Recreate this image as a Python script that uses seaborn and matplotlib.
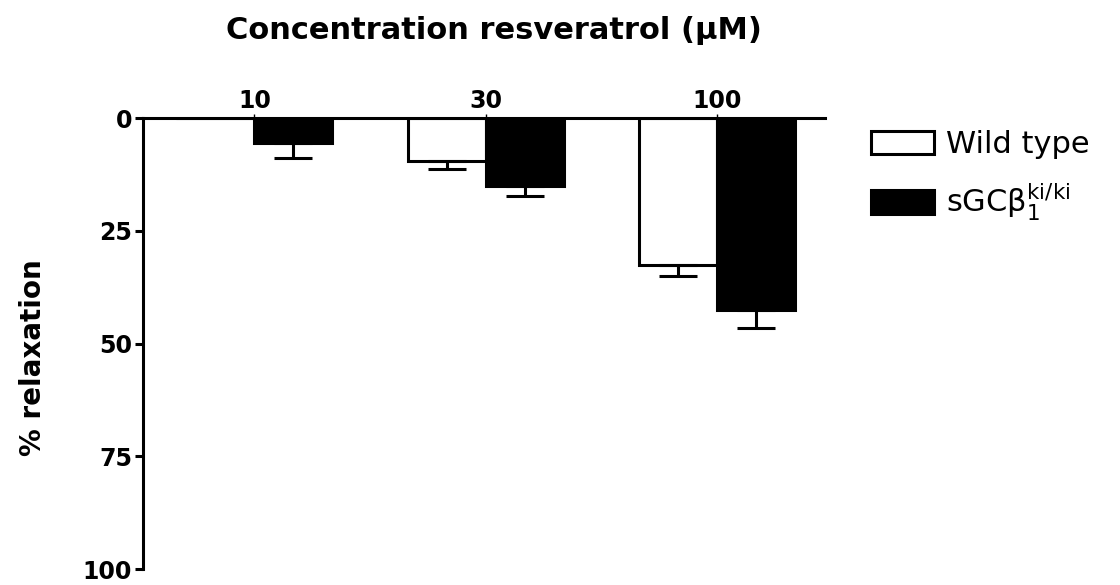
import numpy as np
import pandas as pd
import seaborn as sns
import matplotlib.pyplot as plt
from matplotlib.patches import Patch

concentrations = ["10", "30", "100"]
groups = ["Wild type", "sGCki"]
wild_type = [0.0, 9.5, 32.6]
wild_type_sem = [0.0, 1.8, 2.4]
knock_in = [5.5, 15.0, 42.6]
knock_in_sem = [3.3, 2.3, 4.0]

df = pd.DataFrame({
    "conc": concentrations * 2,
    "group": [groups[0]] * 3 + [groups[1]] * 3,
    "relax": wild_type + knock_in,
})

sns.set_style("ticks")
plt.rcParams["font.family"] = ["DejaVu Sans"]
for key in ["text.color", "axes.labelcolor", "xtick.color", "ytick.color",
            "axes.edgecolor"]:
    plt.rcParams[key] = "black"

fig = plt.figure(figsize=(11.2, 5.85), dpi=100)
ax = fig.add_axes([0.128, 0.027, 0.609, 0.771])

sns.barplot(data=df, x="conc", y="relax", hue="group", order=concentrations,
            hue_order=groups, palette=["white", "black"], width=0.675,
            edgecolor="black", linewidth=2.2, errorbar=None, legend=False,
            saturation=1, ax=ax)

# error bars, drawn one-sided (downwards on the inverted axis)
sems = [wild_type_sem, knock_in_sem]
for container, vals, err in zip(ax.containers, [wild_type, knock_in], sems):
    xs = [p.get_x() + p.get_width() / 2 for p in container]
    keep = [i for i, v in enumerate(vals) if v > 0]
    ax.errorbar([xs[i] for i in keep], [vals[i] for i in keep],
                yerr=[np.zeros(len(keep)), [err[i] for i in keep]],
                fmt="none", ecolor="black", elinewidth=2.2, capsize=14,
                capthick=2.2, zorder=1)

ax.set_ylim(100, 0)
ax.set_xlim(-0.48, 2.47)
ax.xaxis.tick_top()
ax.xaxis.set_label_position("top")
ax.spines["bottom"].set_visible(False)
ax.spines["right"].set_visible(False)
ax.spines["top"].set_linewidth(2.2)
ax.spines["left"].set_linewidth(2.2)
ax.set_yticks([0, 25, 50, 75, 100])
ax.tick_params(axis="y", width=2.2, length=6, labelsize=17, pad=2)
ax.tick_params(axis="x", width=1.0, length=3, labelsize=17, pad=1)
for lab in ax.get_xticklabels() + ax.get_yticklabels():
    lab.set_fontweight("bold")

ax.set_xlabel("")
ax.set_ylabel("% relaxation", fontsize=20, fontweight="bold")
ax.yaxis.set_label_coords(-0.141, 0.468)
fig.text(0.441, 0.948, "Concentration resveratrol (\u00b5M)", ha="center",
         va="center", fontsize=22, fontweight="bold")

handles = [Patch(facecolor="white", edgecolor="black", linewidth=2.2),
           Patch(facecolor="black", edgecolor="black", linewidth=2.2)]
labels = ["Wild type", r"sGC$\mathregular{\beta_1^{ki/ki}}$"]
fig.legend(handles, labels, loc="upper left", bbox_to_anchor=(0.778, 0.778),
           frameon=False, fontsize=22, handlelength=2.05, handleheight=0.8,
           handletextpad=0.4, labelspacing=0.75, borderpad=0, borderaxespad=0)

fig.savefig("out.png", dpi=100)
